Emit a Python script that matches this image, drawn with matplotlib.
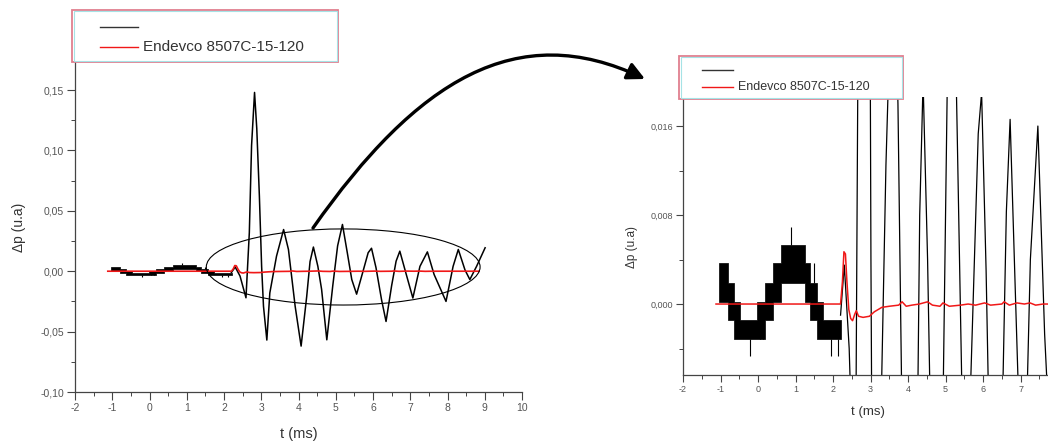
import matplotlib
matplotlib.use('Agg')
import matplotlib.pyplot as plt
import numpy as np
from matplotlib.patches import Ellipse, Rectangle, FancyArrowPatch
from matplotlib.path import Path
from matplotlib.lines import Line2D
from matplotlib.ticker import MultipleLocator, FuncFormatter

plt.rcParams['font.family'] = ['Liberation Sans', 'DejaVu Sans']

# pre-trigger part of the black signal: quantised band (start of each step, band low / high)
stair_t = [-1.03, -0.80, -0.64, -0.48, -0.02, 0.18, 0.40, 0.62, 1.24, 1.39, 1.56, 1.74, 2.22]
stair_lo = [0.0002, -0.0014, -0.0031, -0.0031, -0.0031, -0.0014, 0.0002, 0.0019, 0.0002, -0.0014, -0.0031, -0.0031, -0.0031]
stair_hi = [0.0037, 0.0019, 0.0002, -0.0014, 0.0002, 0.0019, 0.0037, 0.0053, 0.0037, 0.0019, 0.0002, -0.0014, -0.0014]
# single noise spikes on the band
spike_t = [-0.21, 0.05, 0.12, 0.87, 1.49, 1.95, 2.12]
spike_lo = [-0.0031, -0.0014, -0.0014, 0.0053, 0.0019, -0.0031, -0.0031]
spike_hi = [-0.0047, -0.0031, -0.0031, 0.0069, 0.0037, -0.0047, -0.0047]

# black signal after the trigger
black_t = [2.20, 2.30, 2.43, 2.59, 2.68, 2.74, 2.82, 2.88, 2.95, 3.01, 3.06, 3.15, 3.23,
           3.41, 3.60, 3.73, 3.91, 4.07, 4.22, 4.31, 4.40, 4.52, 4.62, 4.76, 4.92, 5.05,
           5.18, 5.31, 5.43, 5.56, 5.72, 5.87, 5.96, 6.08, 6.23, 6.35, 6.50, 6.62, 6.72,
           6.86, 7.07, 7.26, 7.46, 7.64, 7.96, 8.15, 8.29, 8.47, 8.60, 8.78, 9.01]
black_y = [-0.001, 0.0035, -0.004, -0.022, 0.032, 0.104, 0.148, 0.118, 0.062, 0.004, -0.029,
           -0.057, -0.018, 0.0125, 0.0345, 0.018, -0.029, -0.062, -0.021, 0.008, 0.020, 0.004,
           -0.015, -0.0568, -0.012, 0.021, 0.0387, 0.0153, -0.0069, -0.019, -0.0014, 0.0153,
           0.019, 0.003, -0.0237, -0.0416, -0.012, 0.0083, 0.0166, 0.001, -0.0222, 0.004,
           0.016, -0.0027, -0.025, 0.004, 0.018, 0.001, -0.0069, 0.004, 0.0194]

# Endevco 8507C-15-120
red_t = [-1.12, 2.20, 2.25, 2.29, 2.33, 2.37, 2.42, 2.47, 2.52, 2.58, 2.62, 2.68, 2.80, 2.97,
         3.10, 3.30, 3.50, 3.75, 3.84, 3.95, 4.10, 4.30, 4.52, 4.65, 4.85, 4.93, 5.10, 5.40,
         5.60, 5.80, 6.04, 6.20, 6.50, 6.56, 6.70, 6.90, 7.10, 7.25, 7.40, 7.60, 7.80, 8.85]
red_y = [0.0, 0.0, 0.002, 0.0047, 0.0045, 0.002, -0.0005, -0.0013, -0.0015, -0.0009, -0.0006,
         -0.0011, -0.0012, -0.0011, -0.0007, -0.0003, -0.0002, -0.0001, 0.0002, -0.0002,
         -0.0001, 0.0, 0.0002, -0.0001, -0.0002, 0.0001, -0.0002, -0.0001, 0.0, -0.0001,
         0.0001, -0.0001, 0.0, 0.0002, -0.0001, 0.0001, 0.0, 0.0001, -0.0001, 0.0, 0.0, 0.0]

legend_label = 'Endevco 8507C-15-120'

W, H = 1048, 442
fig = plt.figure(figsize=(W / 100, H / 100), dpi=100)


def fx(x):
    return x / W


def fy(y):
    return 1 - y / H


def comma_fmt(nd):
    return FuncFormatter(lambda v, p: f'{v:.{nd}f}'.replace('.', ','))


def style_axes(ax, major_len, tick_fs):
    for s in ['top', 'right']:
        ax.spines[s].set_visible(False)
    for s in ['left', 'bottom']:
        ax.spines[s].set_color('#444444')
        ax.spines[s].set_linewidth(0.9)
    ax.tick_params(which='major', length=major_len, width=0.8, color='#444444',
                   labelsize=tick_fs, labelcolor='#555555', pad=2.5)
    ax.tick_params(which='minor', length=major_len * 0.55, width=0.7, color='#444444')
    ax.xaxis.set_major_formatter(FuncFormatter(lambda v, p: f'{v:.0f}'))


def plot_signal(ax, lw_black, lw_red):
    st = np.array(stair_t)
    ax.fill_between(st, stair_lo, stair_hi, step='post', color='black',
                    edgecolor='black', lw=0.5)
    ax.vlines(spike_t, spike_lo, spike_hi, color='black', lw=0.8)
    ax.plot(black_t, black_y, color='black', lw=lw_black)
    ax.plot(red_t, red_y, color='#f01818', lw=lw_red, zorder=5)


def draw_legend(box, yb, yr, lx, tx, fs):
    x0, y0, x1, y1 = box
    fig.add_artist(Rectangle((fx(x0), fy(y1)), (x1 - x0) / W, (y1 - y0) / H,
                             transform=fig.transFigure, facecolor='white',
                             edgecolor='#e07f8f', lw=1.3, zorder=3))
    fig.add_artist(Rectangle((fx(x0 + 1.5), fy(y1 - 1.5)), (x1 - x0 - 3) / W, (y1 - y0 - 3) / H,
                             transform=fig.transFigure, fill=False,
                             edgecolor='#a6e3e6', lw=0.8, zorder=3))
    fig.add_artist(Line2D([fx(lx[0]), fx(lx[1])], [fy(yb), fy(yb)],
                          transform=fig.transFigure, color='#333333', lw=1.0, zorder=4))
    fig.add_artist(Line2D([fx(lx[0]), fx(lx[1])], [fy(yr), fy(yr)],
                          transform=fig.transFigure, color='#f01818', lw=1.0, zorder=4))
    fig.text(fx(tx), fy(yr), legend_label, fontsize=fs, va='center', ha='left',
             color='#333333', zorder=4)


# left panel
ax1 = fig.add_axes([fx(75), fy(392), (522 - 75) / W, (392 - 62) / H])
plot_signal(ax1, 1.1, 1.2)
ax1.set_xlim(-2, 10)
ax1.set_ylim(-0.10, 0.1732)
ax1.xaxis.set_major_locator(MultipleLocator(1))
ax1.xaxis.set_minor_locator(MultipleLocator(0.5))
ax1.yaxis.set_major_locator(MultipleLocator(0.05))
ax1.yaxis.set_minor_locator(MultipleLocator(0.025))
style_axes(ax1, 5.5, 7.5)
ax1.yaxis.set_major_formatter(comma_fmt(2))
ax1.set_xlabel('t (ms)', fontsize=10.5, color='#333333')
ax1.set_ylabel('Δp (u.a)', fontsize=10, color='#333333')
ax1.xaxis.set_label_coords(0.5, -0.105)
ax1.yaxis.set_label_coords(-0.11, 0.5)
ax1.add_patch(Ellipse((5.2, 0.0035), 7.35, 0.063, fill=False, edgecolor='black', lw=0.8, zorder=6))

# right panel (zoom)
ax2 = fig.add_axes([fx(683), fy(375), (W - 683) / W, (375 - 97) / H])
plot_signal(ax2, 0.9, 1.1)
ax2.set_xlim(-2, 7.73)
ax2.set_ylim(-0.00638, 0.01861)
ax2.xaxis.set_major_locator(MultipleLocator(1))
ax2.xaxis.set_minor_locator(MultipleLocator(0.5))
ax2.yaxis.set_major_locator(MultipleLocator(0.008))
ax2.yaxis.set_minor_locator(MultipleLocator(0.004))
style_axes(ax2, 4.8, 6.5)
ax2.yaxis.set_major_formatter(comma_fmt(3))
ax2.set_xlabel('t (ms)', fontsize=9.5, color='#333333')
ax2.set_ylabel('Δp (u.a)', fontsize=8.5, color='#333333')
ax2.xaxis.set_label_coords(0.507, -0.11)
ax2.yaxis.set_label_coords(-0.122, 0.46)

# legends
draw_legend((72, 10, 338, 62), 27, 47, (100, 138), 143, 11)
draw_legend((679, 56, 903, 99), 70, 87, (702, 733), 738, 9)

# curved arrow from the ellipse to the zoomed panel
pts = [(313, 228), (417, 80), (517, 18), (645, 79)]
arrow_path = Path([(fx(x), fy(y)) for x, y in pts],
                  [Path.MOVETO, Path.CURVE4, Path.CURVE4, Path.CURVE4])
fig.add_artist(FancyArrowPatch(path=arrow_path, arrowstyle='-|>', mutation_scale=26,
                               lw=2.4, color='black', transform=fig.transFigure, zorder=6))

fig.savefig('out.png', dpi=100)
